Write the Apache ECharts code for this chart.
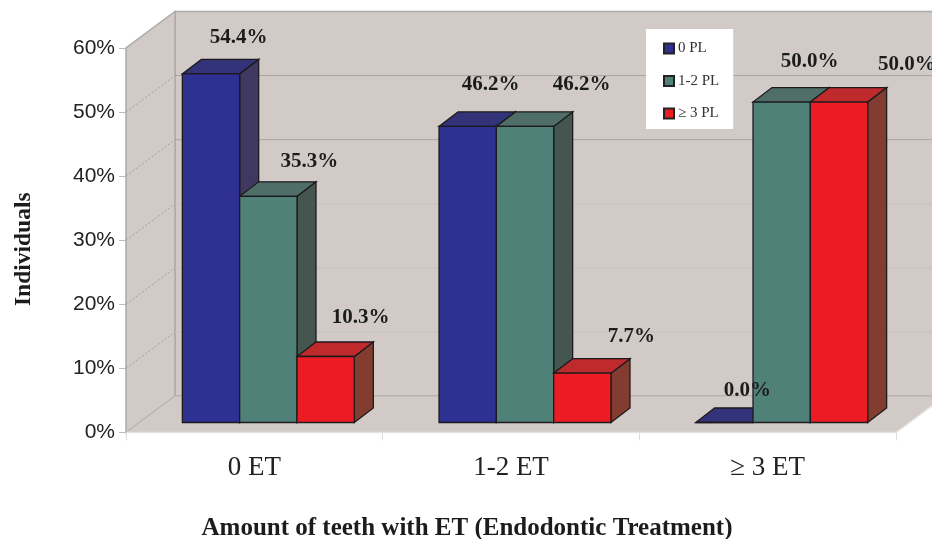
<!DOCTYPE html>
<html>
<head>
<meta charset="utf-8">
<style>
  html, body { margin: 0; padding: 0; background: #fff; }
  #chart { width: 932px; height: 539px; }
</style>
<script src="https://cdn.jsdelivr.net/npm/echarts@6/dist/echarts.min.js"></script>
</head>
<body>
<div id="chart"></div>
<script>
// data
const categories = ['0 ET', '1-2 ET', '≥ 3 ET'];
const seriesNames = ['0 PL', '1-2 PL', '≥ 3 PL'];
const pl0 = [54.4, 46.2, 0.0];
const pl12 = [35.3, 46.2, 50.0];
const pl3 = [10.3, 7.7, 50.0];
const yTicks = [0, 10, 20, 30, 40, 50, 60];

// bar colours: front, top, side
const barColors = [
  ['#2e3192', '#33337a', '#3f3860'],
  ['#4f8179', '#4f6e68', '#44564f'],
  ['#ed1c24', '#bf2a2c', '#823c30']
];
// fake 3d offsets in px
const wallDepth = [49, -36.5];
const barShift = [14, -10];
const barDepth = [19, -14.5];
const barBandRatio = 0.2233;
// where the data labels sit relative to the bar's top centre
const labelOffsets = [
  [[27.5, -36], [23, -42], [23, -32]],
  [[41, -35], [56.5, -42], [28, -41]],
  [[35, -39], [49, -37], [68, -38]]
];
const serif = '"Liberation Serif", "Times New Roman", serif';

function poly(points, fill, stroke, lineWidth, z2) {
  return {
    type: 'polygon',
    z2: z2 || 0,
    shape: { points: points },
    style: { fill: fill, stroke: stroke, lineWidth: lineWidth || 0 }
  };
}

// walls and floor
function renderWalls(params, api) {
  const cs = params.coordSys;
  const left = cs.x, right = cs.x + cs.width;
  const y0 = api.coord([0, 0])[1];
  const yTop = api.coord([0, 60])[1];
  const dx = wallDepth[0], dy = wallDepth[1];
  const wall = '#d1cac7', edge = '#b0aba8';
  return {
    type: 'group',
    children: [
      poly([[left + dx, yTop + dy], [right + dx, yTop + dy], [right + dx, y0 + dy], [left + dx, y0 + dy]], wall, edge, 1.5),
      poly([[left, y0], [left, yTop], [left + dx, yTop + dy], [left + dx, y0 + dy]], wall, edge, 1.5),
      poly([[left, y0], [right, y0], [right + dx, y0 + dy], [left + dx, y0 + dy]], wall, '#b9b4b1', 1),
      { type: 'line', shape: { x1: left, y1: y0, x2: right, y2: y0 }, style: { stroke: '#e6e3e1', lineWidth: 1.5 } },
      { type: 'line', shape: { x1: right, y1: y0, x2: right + dx, y2: y0 + dy }, style: { stroke: '#e6e3e1', lineWidth: 1.5 } }
    ]
  };
}

// one grid line per tick, along the side wall and the back wall
function renderGrid(params, api) {
  const v = api.value(0);
  if (v === 0 || v === 60) return { type: 'group', children: [] };
  const cs = params.coordSys;
  const y = api.coord([0, v])[1];
  const xl = cs.x + wallDepth[0], yb = y + wallDepth[1];
  return {
    type: 'group',
    children: [
      { type: 'line', shape: { x1: cs.x, y1: y, x2: xl, y2: yb }, style: { stroke: '#a3a09e', lineWidth: 1, lineDash: [2, 2] } },
      { type: 'line', shape: { x1: xl, y1: yb, x2: cs.x + cs.width + wallDepth[0], y2: yb }, style: { stroke: v >= 40 ? '#aaa5a2' : '#c8c2bf', lineWidth: 1 } }
    ]
  };
}

function makeBarRender(seriesIndex) {
  return function (params, api) {
    const cat = api.value(0), val = api.value(1);
    const w = api.size([1, 0])[0] * barBandRatio;
    const c = barColors[seriesIndex];
    const center = api.coord([cat, 0])[0] + barShift[0] + (seriesIndex - 1) * w;
    const xa = center - w / 2, xb = center + w / 2;
    const yBase = api.coord([cat, 0])[1] + barShift[1];
    const yTop = api.coord([cat, val])[1] + barShift[1];
    const dx = barDepth[0], dy = barDepth[1];
    const line = '#1c1a1c';
    const off = labelOffsets[seriesIndex][cat];
    return {
      type: 'group',
      children: [
        poly([[xb, yBase], [xb + dx, yBase + dy], [xb + dx, yTop + dy], [xb, yTop]], c[2], line, 1.3),
        poly([[xa, yTop], [xb, yTop], [xb + dx, yTop + dy], [xa + dx, yTop + dy]], c[1], line, 1.3),
        poly([[xa, yBase], [xb, yBase], [xb, yTop], [xa, yTop]], c[0], line, 1.3),
        {
          type: 'text',
          z2: 100,
          style: {
            x: center + off[0],
            y: yTop + off[1],
            text: val.toFixed(1) + '%',
            fill: '#1c1c1c',
            font: 'bold 21px ' + serif,
            align: 'center',
            verticalAlign: 'middle'
          }
        }
      ]
    };
  };
}

function barSeries(i, values) {
  return {
    name: seriesNames[i],
    type: 'custom',
    z: 2,
    silent: true,
    renderItem: makeBarRender(i),
    itemStyle: { color: barColors[i][0], borderColor: '#222', borderWidth: 1 },
    encode: { x: 0, y: 1 },
    data: values.map((v, k) => [k, v])
  };
}

const chart = echarts.init(document.getElementById('chart'), null, { renderer: 'canvas' });
chart.setOption({
  animation: false,
  backgroundColor: '#fff',
  grid: { left: 126, right: 36, top: 48, bottom: 106.5, outerBoundsMode: 'none' },
  legend: {
    data: seriesNames,
    orient: 'vertical',
    left: 646,
    top: 29,
    backgroundColor: '#fff',
    padding: [12, 14, 8, 17],
    itemWidth: 10,
    itemHeight: 10,
    itemGap: 17.5,
    icon: 'rect',
    selectedMode: false,
    textStyle: { fontFamily: serif, fontSize: 15, color: '#333', padding: [0, 0, 0, -1] }
  },
  xAxis: {
    type: 'category',
    data: categories,
    name: 'Amount of teeth with ET (Endodontic Treatment)',
    nameLocation: 'middle',
    nameGap: 84,
    nameTextStyle: { fontFamily: serif, fontWeight: 'bold', fontSize: 25, color: '#1c1c1c', padding: [0, 88, 0, 0] },
    axisLine: { show: false },
    axisTick: { show: true, length: 8, lineStyle: { color: '#ddd' } },
    axisLabel: { fontFamily: serif, fontSize: 27, color: '#222', margin: 22 }
  },
  yAxis: {
    type: 'value',
    min: 0,
    max: 60,
    interval: 10,
    name: 'Individuals',
    nameLocation: 'middle',
    nameGap: 90,
    nameTextStyle: { fontFamily: serif, fontWeight: 'bold', fontSize: 23.5, color: '#1c1c1c', padding: [0, 18, 0, 0] },
    axisLine: { show: false },
    axisTick: { show: true, length: 7, lineStyle: { color: '#bbb' } },
    axisLabel: { fontFamily: '"Liberation Sans", Arial, sans-serif', fontSize: 21, color: '#222', margin: 11, formatter: '{value}%' },
    splitLine: { show: false }
  },
  series: [
    { type: 'custom', z: 0, silent: true, renderItem: renderWalls, data: [[0, 0]] },
    { type: 'custom', z: 1, silent: true, renderItem: renderGrid, encode: { y: 0 }, data: yTicks.map(t => [t]) },
    barSeries(0, pl0),
    barSeries(1, pl12),
    barSeries(2, pl3)
  ]
});
</script>
</body>
</html>
